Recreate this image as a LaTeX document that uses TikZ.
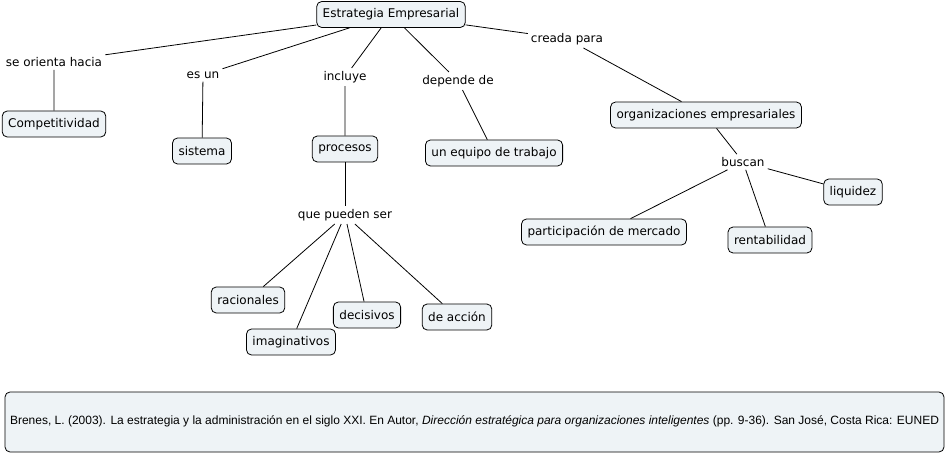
\documentclass[tikz,border=0pt]{standalone}
\usepackage{fontspec}
\setmainfont{DejaVu Sans}
\newfontfamily\citefont{Liberation Sans}
\definecolor{cmapfill}{HTML}{EEF3F6}

\begin{document}
\begin{tikzpicture}[x=1pt, y=-1pt,
    concept/.style={draw, rounded corners=5pt, fill=cmapfill, line width=0.8pt,
        minimum height=26pt, inner xsep=6pt, font=\fontsize{12}{14}\selectfont},
    phrase/.style={inner sep=3pt, font=\fontsize{12}{14}\selectfont},
    link/.style={line width=0.8pt}]
    \useasboundingbox (0,0) rectangle (948,454);

    % concepts
    \node[concept] (estrategia) at (391, 14.5) {Estrategia Empresarial};
    \node[concept] (competitividad) at (54, 124) {Competitividad};
    \node[concept] (sistema) at (202, 151) {sistema};
    \node[concept] (procesos) at (345, 149) {procesos};
    \node[concept] (equipo) at (494, 153) {un equipo de trabajo};
    \node[concept] (organizaciones) at (706, 115) {organizaciones empresariales};
    \node[concept] (liquidez) at (853, 192) {liquidez};
    \node[concept] (participacion) at (604, 232) {participación de mercado};
    \node[concept] (rentabilidad) at (770, 240) {rentabilidad};
    \node[concept] (racionales) at (248, 300) {racionales};
    \node[concept] (imaginativos) at (291, 342) {imaginativos};
    \node[concept] (decisivos) at (367, 315) {decisivos};
    \node[concept] (accion) at (457, 317) {de acción};

    % linking phrases
    \node[phrase] (orienta) at (54, 62) {se orienta hacia};
    \node[phrase] (esun) at (203, 75) {es un};
    \node[phrase] (incluye) at (345, 77) {incluye};
    \node[phrase] (depende) at (458, 81) {depende de};
    \node[phrase] (creada) at (567, 39) {creada para};
    \node[phrase] (buscan) at (743, 162) {buscan};
    \node[phrase] (pueden) at (345, 215) {que pueden ser};

    % connectors
    \draw[link] (estrategia) -- (orienta) -- (competitividad);
    \draw[link] (estrategia) -- (esun) -- (sistema);
    \draw[link] (estrategia) -- (incluye) -- (procesos);
    \draw[link] (estrategia) -- (depende) -- (equipo);
    \draw[link] (estrategia) -- (creada) -- (organizaciones);
    \draw[link] (organizaciones) -- (buscan);
    \draw[link] (buscan) -- (liquidez);
    \draw[link] (buscan) -- (participacion);
    \draw[link] (buscan) -- (rentabilidad);
    \draw[link] (procesos) -- (pueden);
    \draw[link] (pueden) -- (racionales);
    \draw[link] (pueden) -- (imaginativos);
    \draw[link] (pueden) -- (decisivos);
    \draw[link] (pueden) -- (accion);

    % reference
    \draw[rounded corners=5pt, fill=cmapfill, line width=0.8pt] (5, 392) rectangle (944, 452);
    \node[inner sep=0pt, font=\citefont\fontsize{12}{14}\selectfont] (cita) at (474.5, 421)
        {Brenes, L. (2003). La estrategia y la administración en el siglo XXI. En Autor, \textit{Dirección estratégica para organizaciones inteligentes} (pp. 9-36). San José, Costa Rica: EUNED};
\end{tikzpicture}
\end{document}
